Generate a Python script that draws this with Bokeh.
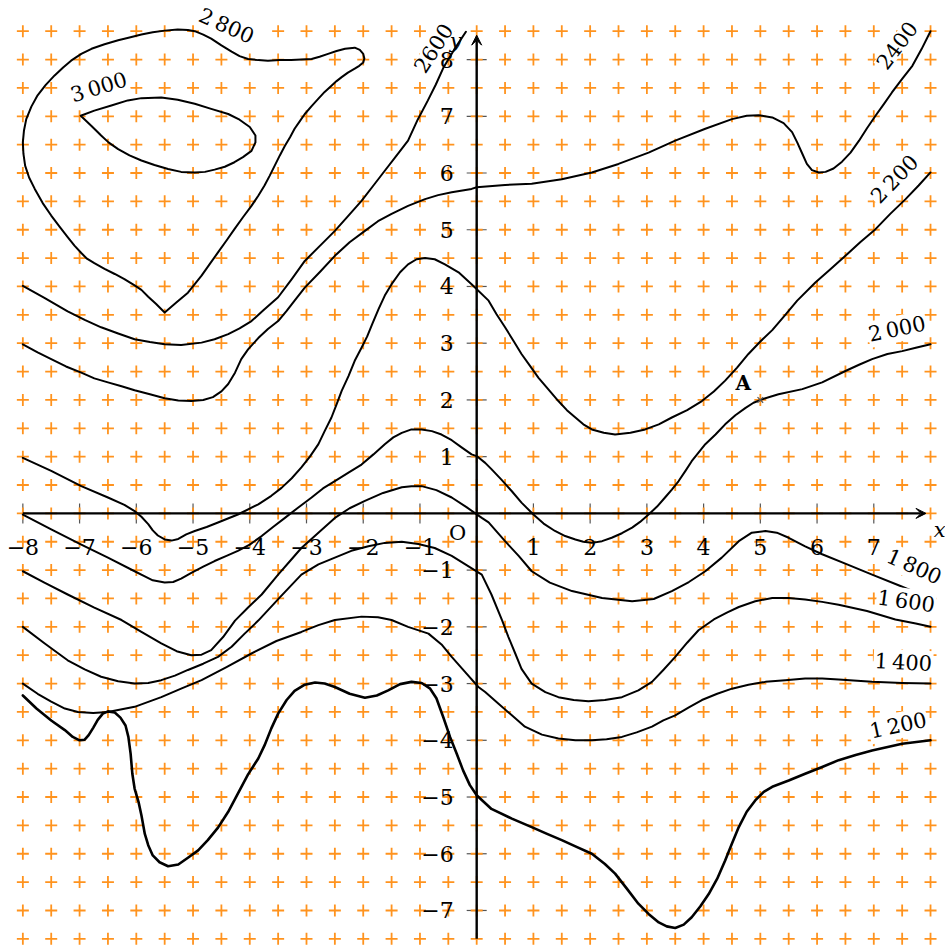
import numpy as np
from bokeh.plotting import figure
from bokeh.models import Range1d, Arrow, VeeHead
from bokeh.core.properties import value
from bokeh.embed import file_html
from bokeh.resources import INLINE

# ---------------- data ----------------
c3000_x = [-6.98, -6.74, -6.44, -6.15, -5.91, -5.56, -5.27, -4.97, -4.68, -4.38, -4.18, -4.00, -3.90, -3.90,
           -3.97, -4.12, -4.27, -4.44, -4.62, -4.79, -4.97, -5.21, -5.44, -5.68, -5.91, -6.12, -6.32, -6.49,
           -6.62, -6.79, -6.98]
c3000_y = [7.01, 7.10, 7.19, 7.28, 7.32, 7.33, 7.29, 7.22, 7.13, 7.04, 6.94, 6.81, 6.66, 6.54,
           6.39, 6.28, 6.19, 6.11, 6.06, 6.02, 6.01, 6.02, 6.07, 6.14, 6.22, 6.31, 6.42, 6.54,
           6.66, 6.83, 7.01]

c2800_x = [-5.50, -5.65, -5.79, -5.91, -6.03, -6.21, -6.38, -6.56, -6.74, -6.87, -6.97, -7.09, -7.21, -7.35,
           -7.50, -7.65, -7.79, -7.89, -7.96, -7.99, -8.00, -7.98, -7.94, -7.85, -7.74, -7.60, -7.44, -7.29,
           -7.15, -6.97, -6.79, -6.56, -6.32, -6.12, -5.91, -5.71, -5.50, -5.27, -5.09, -4.97, -4.82, -4.68,
           -4.50, -4.32, -4.18, -4.03, -3.85, -3.68, -3.47, -3.27, -3.09, -2.91, -2.77, -2.62, -2.47, -2.32,
           -2.15, -2.06, -2.00, -1.98, -2.00, -2.07, -2.15, -2.27, -2.38, -2.47, -2.56, -2.68, -2.79, -2.91,
           -3.03, -3.12, -3.21, -3.29, -3.38, -3.47, -3.56, -3.65, -3.74, -3.85, -3.97, -4.12, -4.27, -4.41,
           -4.56, -4.71, -4.85, -4.97, -5.09, -5.29, -5.50]
c2800_y = [3.54, 3.69, 3.82, 3.94, 4.02, 4.13, 4.22, 4.31, 4.41, 4.49, 4.59, 4.72, 4.87, 5.05,
           5.25, 5.47, 5.72, 5.92, 6.13, 6.34, 6.54, 6.75, 6.95, 7.17, 7.37, 7.55, 7.72, 7.86,
           7.98, 8.10, 8.19, 8.27, 8.34, 8.39, 8.44, 8.48, 8.51, 8.53, 8.52, 8.50, 8.44, 8.37,
           8.25, 8.14, 8.06, 8.01, 7.99, 7.98, 7.99, 7.99, 8.00, 8.01, 8.05, 8.10, 8.15, 8.19,
           8.21, 8.17, 8.10, 8.02, 7.95, 7.89, 7.84, 7.77, 7.69, 7.62, 7.54, 7.43, 7.31, 7.18,
           7.04, 6.91, 6.78, 6.63, 6.48, 6.31, 6.13, 5.95, 5.78, 5.60, 5.42, 5.22, 5.01, 4.81,
           4.60, 4.39, 4.19, 4.04, 3.89, 3.72, 3.54]

c2600_x = [-8.00, -7.62, -7.21, -6.91, -6.62, -6.32, -6.03, -5.76, -5.50, -5.21, -4.85, -4.62, -4.38, -4.18,
           -3.97, -3.76, -3.50, -3.26, -3.03, -2.76, -2.50, -2.26, -2.03, -1.82, -1.62, -1.41, -1.21, -1.04,
           -0.86, -0.72, -0.58, -0.40, -0.19]
c2600_y = [4.01, 3.80, 3.56, 3.41, 3.28, 3.17, 3.07, 3.02, 2.98, 2.97, 3.01, 3.07, 3.16, 3.26,
           3.39, 3.58, 3.81, 4.13, 4.45, 4.72, 4.98, 5.25, 5.51, 5.78, 6.04, 6.31, 6.57, 6.94,
           7.28, 7.56, 7.87, 8.17, 8.49]

c2400_x = [-8.00, -7.74, -7.50, -7.24, -6.97, -6.74, -6.50, -6.26, -6.03, -5.76, -5.50, -5.26, -5.03, -4.82,
           -4.65, -4.50, -4.38, -4.26, -4.15, -4.03, -3.85, -3.68, -3.50, -3.35, -3.21, -3.03, -2.76, -2.50,
           -2.24, -1.97, -1.74, -1.50, -1.21, -0.91, -0.68, -0.44, -0.09, 0.00, 0.50, 0.97, 1.50, 2.03, 2.50,
           3.03, 3.50, 4.03, 4.50, 4.76, 4.97, 5.21, 5.41, 5.56, 5.65, 5.74, 5.82, 5.91, 6.03, 6.15, 6.29,
           6.44, 6.59, 6.74, 6.88, 7.03, 7.18, 7.32, 7.50, 7.68, 7.84, 8.00]
c2400_y = [2.98, 2.84, 2.72, 2.59, 2.48, 2.38, 2.31, 2.24, 2.17, 2.10, 2.03, 1.99, 1.98, 2.00,
           2.05, 2.15, 2.28, 2.48, 2.72, 2.89, 3.09, 3.25, 3.39, 3.57, 3.75, 3.98, 4.26, 4.54,
           4.78, 4.98, 5.15, 5.28, 5.42, 5.54, 5.61, 5.66, 5.72, 5.75, 5.79, 5.81, 5.89, 6.01, 6.16,
           6.36, 6.57, 6.78, 6.95, 7.01, 7.02, 6.98, 6.88, 6.72, 6.54, 6.34, 6.16, 6.05, 6.01, 6.02, 6.08,
           6.20, 6.36, 6.57, 6.79, 7.01, 7.22, 7.42, 7.66, 7.89, 8.18, 8.50]

c2200_x = [-8.00, -7.50, -6.97, -6.50, -6.21, -6.03, -5.91, -5.79, -5.71, -5.62, -5.50, -5.38, -5.26, -5.12,
           -4.97, -4.76, -4.56, -4.21, -3.85, -3.62, -3.44, -3.26, -3.09, -2.94, -2.79, -2.68, -2.56, -2.47,
           -2.38, -2.26, -2.15, -2.03, -1.93, -1.84, -1.73, -1.62, -1.50, -1.35, -1.21, -1.06, -0.91, -0.74,
           -0.56, -0.32, -0.09, 0.21, 0.35, 0.50, 0.65, 0.79, 0.94, 1.09, 1.26, 1.44, 1.59, 1.74, 1.88, 2.03,
           2.24, 2.44, 2.71, 2.97, 3.21, 3.44, 3.71, 3.97, 4.18, 4.38, 4.59, 4.79, 5.00, 5.21, 5.44, 5.65,
           5.97, 6.24, 6.50, 6.76, 7.03, 7.29, 7.56, 7.79, 8.00]
c2200_y = [0.98, 0.75, 0.48, 0.28, 0.15, 0.04, -0.06, -0.19, -0.30, -0.39, -0.46, -0.48, -0.45, -0.37,
           -0.31, -0.24, -0.16, -0.02, 0.16, 0.31, 0.45, 0.62, 0.81, 1.00, 1.22, 1.45, 1.69, 1.92,
           2.16, 2.42, 2.69, 2.92, 3.12, 3.34, 3.60, 3.84, 4.04, 4.25, 4.39, 4.48, 4.50, 4.48,
           4.39, 4.25, 4.04, 3.75, 3.51, 3.28, 3.04, 2.81, 2.60, 2.39, 2.19, 1.98, 1.82, 1.69, 1.57, 1.48,
           1.42, 1.39, 1.42, 1.48, 1.57, 1.69, 1.82, 1.98, 2.15, 2.34, 2.57, 2.81, 3.03, 3.23, 3.50, 3.75,
           4.07, 4.31, 4.54, 4.78, 5.01, 5.28, 5.54, 5.78, 6.01]

c2000_x = [-8.00, -7.50, -6.97, -6.50, -6.03, -5.85, -5.71, -5.50, -5.35, -5.21, -5.03, -4.82, -4.62, -4.41,
           -4.21, -4.00, -3.79, -3.59, -3.38, -3.15, -2.91, -2.71, -2.50, -2.26, -2.03, -1.82, -1.62, -1.47,
           -1.32, -1.15, -0.97, -0.79, -0.62, -0.44, -0.26, -0.09, 0.00, 0.15, 0.26, 0.44, 0.62, 0.79, 1.00,
           1.18, 1.38, 1.56, 1.74, 1.88, 2.03, 2.21, 2.38, 2.56, 2.74, 2.88, 3.03, 3.18, 3.32, 3.44, 3.56,
           3.68, 3.79, 3.91, 4.03, 4.21, 4.38, 4.56, 4.74, 4.88, 5.03, 5.32, 5.74, 6.09, 6.50, 6.74, 6.97,
           7.24, 7.50, 7.74, 8.00]
c2000_y = [-0.02, -0.28, -0.55, -0.78, -1.02, -1.11, -1.18, -1.22, -1.21, -1.15, -1.05, -0.94, -0.84, -0.75,
           -0.66, -0.55, -0.40, -0.24, -0.08, 0.10, 0.28, 0.44, 0.57, 0.72, 0.86, 1.04, 1.22, 1.34,
           1.42, 1.48, 1.48, 1.45, 1.39, 1.29, 1.16, 1.04, 1.01, 0.89, 0.78, 0.59, 0.39, 0.19, -0.02,
           -0.18, -0.31, -0.40, -0.46, -0.50, -0.52, -0.49, -0.43, -0.35, -0.25, -0.15, -0.02, 0.12, 0.28, 0.42, 0.57,
           0.75, 0.92, 1.07, 1.22, 1.39, 1.57, 1.73, 1.86, 1.95, 2.01, 2.10, 2.19, 2.31, 2.51, 2.62, 2.72,
           2.81, 2.86, 2.92, 2.98]

c1800_x = [-8.00, -7.62, -7.21, -6.74, -6.26, -5.91, -5.56, -5.29, -5.03, -4.85, -4.68, -4.47, -4.26, -4.03,
           -3.79, -3.50, -3.29, -3.09, -2.79, -2.50, -2.24, -1.97, -1.65, -1.32, -1.15, -0.97, -0.71, -0.44,
           -0.18, 0.09, 0.21, 0.50, 0.74, 0.97, 1.29, 1.68, 2.21, 2.74, 3.12, 3.44, 3.74, 4.03, 4.32, 4.62,
           4.85, 5.09, 5.29, 5.50, 5.79, 6.09, 6.53, 6.97, 7.47, 7.97]
c1800_y = [-1.02, -1.22, -1.43, -1.66, -1.88, -2.09, -2.29, -2.43, -2.50, -2.49, -2.41, -2.18, -1.89, -1.66,
           -1.43, -1.08, -0.84, -0.61, -0.34, -0.08, 0.09, 0.22, 0.36, 0.46, 0.48, 0.48, 0.41, 0.28,
           0.11, -0.08, -0.16, -0.49, -0.75, -1.02, -1.22, -1.37, -1.49, -1.55, -1.51, -1.37, -1.21, -1.02, -0.78, -0.49,
           -0.34, -0.31, -0.34, -0.43, -0.58, -0.72, -0.90, -1.08, -1.28, -1.49]

c1600_x = [-8.00, -7.62, -7.21, -6.91, -6.62, -6.32, -6.03, -5.79, -5.56, -5.32, -5.09, -4.82, -4.56, -4.32,
           -4.09, -3.85, -3.47, -3.09, -2.79, -2.50, -2.21, -1.91, -1.62, -1.32, -1.03, -0.74, -0.44, -0.15,
           0.09, 0.26, 0.45, 0.56, 0.68, 0.79, 0.97, 1.21, 1.44, 1.71, 1.97, 2.26, 2.56, 2.85, 3.09, 3.29,
           3.50, 3.71, 3.91, 4.18, 4.41, 4.62, 4.91, 5.21, 5.50, 5.79, 6.09, 6.38, 6.88, 7.38, 7.74, 8.00]
c1600_y = [-2.00, -2.29, -2.59, -2.75, -2.88, -2.96, -3.00, -2.99, -2.94, -2.86, -2.76, -2.65, -2.53, -2.35,
           -2.12, -1.89, -1.48, -1.08, -0.90, -0.78, -0.66, -0.58, -0.52, -0.50, -0.54, -0.61, -0.75, -0.93,
           -1.08, -1.43, -1.89, -2.18, -2.47, -2.74, -3.00, -3.15, -3.24, -3.29, -3.31, -3.29, -3.24, -3.12, -2.97, -2.76,
           -2.53, -2.28, -2.06, -1.87, -1.75, -1.65, -1.55, -1.49, -1.49, -1.52, -1.56, -1.61, -1.72, -1.87, -1.94, -2.00]

c1400_x = [-8.00, -7.74, -7.50, -7.26, -7.03, -6.76, -6.50, -6.03, -5.56, -5.21, -4.85, -4.41, -3.97, -3.53,
           -3.09, -2.79, -2.50, -2.03, -1.74, -1.50, -1.21, -0.85, -0.62, -0.44, -0.21, 0.03, 0.15, 0.38, 0.62,
           0.85, 1.15, 1.44, 1.74, 2.03, 2.29, 2.56, 2.82, 3.09, 3.29, 3.50, 3.74, 3.97, 4.24, 4.50, 4.79,
           5.09, 5.44, 5.79, 6.09, 6.38, 6.97, 7.50, 8.00]
c1400_y = [-3.00, -3.18, -3.32, -3.44, -3.50, -3.52, -3.50, -3.41, -3.24, -3.09, -2.94, -2.71, -2.47, -2.25,
           -2.09, -1.97, -1.88, -1.82, -1.83, -1.88, -2.00, -2.12, -2.31, -2.53, -2.79, -3.06, -3.15, -3.35, -3.56,
           -3.76, -3.90, -3.97, -4.00, -4.00, -3.98, -3.94, -3.86, -3.76, -3.65, -3.56, -3.42, -3.29, -3.18, -3.09, -3.02,
           -2.97, -2.94, -2.91, -2.91, -2.93, -2.97, -2.99, -3.00]

c1200_x = [-8.00, -7.76, -7.50, -7.26, -7.12, -7.00, -6.91, -6.84, -6.76, -6.68, -6.59, -6.50, -6.38, -6.28,
           -6.19, -6.14, -6.10, -6.07, -6.03, -5.96, -5.91, -5.85, -5.79, -5.71, -5.59, -5.44, -5.26, -5.09,
           -4.91, -4.74, -4.56, -4.38, -4.21, -4.03, -3.85, -3.74, -3.62, -3.50, -3.35, -3.21, -3.03, -2.85,
           -2.68, -2.50, -2.24, -1.97, -1.76, -1.56, -1.35, -1.15, -0.97, -0.82, -0.71, -0.59, -0.47, -0.35,
           -0.24, -0.12, 0.00, 0.26, 0.62, 0.97, 1.24, 1.50, 1.76, 2.03, 2.26, 2.44, 2.65, 2.85, 3.03, 3.21,
           3.35, 3.50, 3.65, 3.79, 3.94, 4.09, 4.24, 4.38, 4.50, 4.62, 4.76, 4.91, 5.06, 5.21, 5.50, 5.79,
           6.09, 6.38, 6.68, 6.97, 7.50, 8.00]
c1200_y = [-3.21, -3.44, -3.65, -3.82, -3.94, -4.00, -3.99, -3.91, -3.78, -3.64, -3.53, -3.49, -3.51, -3.60,
           -3.74, -3.94, -4.24, -4.59, -4.85, -5.09, -5.32, -5.65, -5.85, -6.03, -6.15, -6.22, -6.19, -6.07,
           -5.94, -5.76, -5.54, -5.26, -4.94, -4.60, -4.32, -4.09, -3.79, -3.53, -3.29, -3.13, -3.02, -2.98,
           -3.00, -3.06, -3.18, -3.25, -3.21, -3.12, -3.01, -2.97, -2.99, -3.09, -3.26, -3.59, -3.94, -4.24,
           -4.53, -4.79, -4.97, -5.21, -5.38, -5.53, -5.65, -5.76, -5.88, -6.00, -6.18, -6.35, -6.62, -6.88, -7.06, -7.21,
           -7.28, -7.31, -7.25, -7.12, -6.93, -6.71, -6.44, -6.12, -5.82, -5.53, -5.26, -5.06, -4.91, -4.82, -4.71, -4.59,
           -4.47, -4.35, -4.26, -4.18, -4.06, -4.00]

curves_x = [c3000_x, c2800_x, c2600_x, c2400_x, c2200_x, c2000_x, c1800_x, c1600_x, c1400_x, c1200_x]
curves_y = [c3000_y, c2800_y, c2600_y, c2400_y, c2200_y, c2000_y, c1800_y, c1600_y, c1400_y, c1200_y]
curve_widths = [2, 2, 2, 2, 2, 2, 2, 2, 2, 2.6]

level_text = ["3\u2009000", "2\u2009800", "2600", "2400", "2\u2009200", "2\u2009000",
              "1\u2009800", "1\u2009600", "1\u2009400", "1\u2009200"]
level_x = [-6.66, -4.41, -0.76, 7.41, 7.37, 7.41, 7.71, 7.57, 7.52, 7.43]
level_y = [7.51, 8.59, 8.20, 8.25, 5.89, 3.25, -0.94, -1.55, -2.63, -3.74]
level_angle = [17, -24, 57, 53, 46, 12, -24, -8, -3, 12]

x_ticks = [-8, -7, -6, -5, -4, -3, -2, -1, 1, 2, 3, 4, 5, 6, 7]
x_tick_labels = ["\u22128", "\u22127", "\u22126", "\u22125", "\u22124", "\u22123", "\u22122", "\u22121",
                 "1", "2", "3", "4", "5", "6", "7"]
y_ticks = [-7, -6, -5, -4, -3, -2, -1, 1, 2, 3, 4, 5, 6, 7, 8]
y_tick_labels = ["\u22127", "\u22126", "\u22125", "\u22124", "\u22123", "\u22122", "\u22121",
                 "1", "2", "3", "4", "5", "6", "7", "8"]

point_A = (5, 2)

# ---------------- figure ----------------
SERIF = value("DejaVu Serif")
X0, X1 = -8.394, 8.264
Y0, Y1 = -7.635, 9.041
p = figure(width=945, height=946, x_range=Range1d(X0, X1), y_range=Range1d(Y0, Y1),
           output_backend="svg", toolbar_location=None, min_border=0,
           x_axis_location=None, y_axis_location=None)
p.grid.visible = False
p.outline_line_color = None
p.background_fill_color = "white"

# axes with arrows
p.add_layout(Arrow(x_start=-8, y_start=0, x_end=7.92, y_end=0, line_width=2.4, line_color="black",
                   end=VeeHead(size=10, fill_color="black", line_color="black", line_width=1)))
p.add_layout(Arrow(x_start=0, y_start=-7.5, x_end=0, y_end=8.43, line_width=2.4, line_color="black",
                   end=VeeHead(size=10, fill_color="black", line_color="black", line_width=1)))

# tick marks
p.scatter(x=x_ticks, y=[0] * len(x_ticks), marker="dash", angle=np.pi / 2, size=20,
          line_color="#555555", line_width=1.2)
p.scatter(x=[0] * len(y_ticks), y=y_ticks, marker="dash", size=20,
          line_color="#555555", line_width=1.2)

# orange plus grid
gx, gy = np.meshgrid(np.arange(-8, 8.001, 0.5), np.arange(-7.5, 8.501, 0.5))
p.scatter(x=gx.ravel(), y=gy.ravel(), marker="cross", size=12, line_color="#FF931E", line_width=1.8)

# level curves
for xs, ys, w in zip(curves_x, curves_y, curve_widths):
    p.line(xs, ys, line_width=w, line_color="black", line_join="round", line_cap="round")

# curve labels
p.text(x=level_x, y=level_y, text=level_text, angle=np.radians(level_angle),
       text_align="center", text_baseline="middle", text_font=SERIF, text_font_size="21px",
       text_color="black", background_fill_color="white", padding=1)

# tick labels
p.text(x=x_ticks, y=[0] * len(x_ticks), text=x_tick_labels, text_align="center", text_baseline="middle",
       y_offset=34, text_font=SERIF, text_font_size="22px", text_color="black")
p.text(x=[0] * len(y_ticks), y=y_ticks, text=y_tick_labels, text_align="right", text_baseline="middle",
       x_offset=-23, text_font=SERIF, text_font_size="22px", text_color="black")

# origin, axis names
p.text(x=[0], y=[0], text=["O"], text_align="center", text_baseline="middle", x_offset=-19, y_offset=20,
       text_font=SERIF, text_font_size="21px")
p.text(x=[0], y=[8.43], text=["y"], text_align="center", text_baseline="middle", x_offset=-21, y_offset=6,
       text_font=SERIF, text_font_style="italic", text_font_size="21px")
p.text(x=[X1], y=[0], text=["x"], text_align="right", text_baseline="middle", y_offset=17,
       text_font=SERIF, text_font_style="italic", text_font_size="21px")

# point A
p.scatter(x=[point_A[0]], y=[point_A[1]], marker="x", size=8, line_color="#555555", line_width=1.2)
p.text(x=[point_A[0]], y=[point_A[1]], text=["A"], text_align="center", text_baseline="middle",
       x_offset=-17, y_offset=-17, text_font=SERIF, text_font_style="bold", text_font_size="20px")

open("out.html", "w").write(file_html(p, INLINE))
